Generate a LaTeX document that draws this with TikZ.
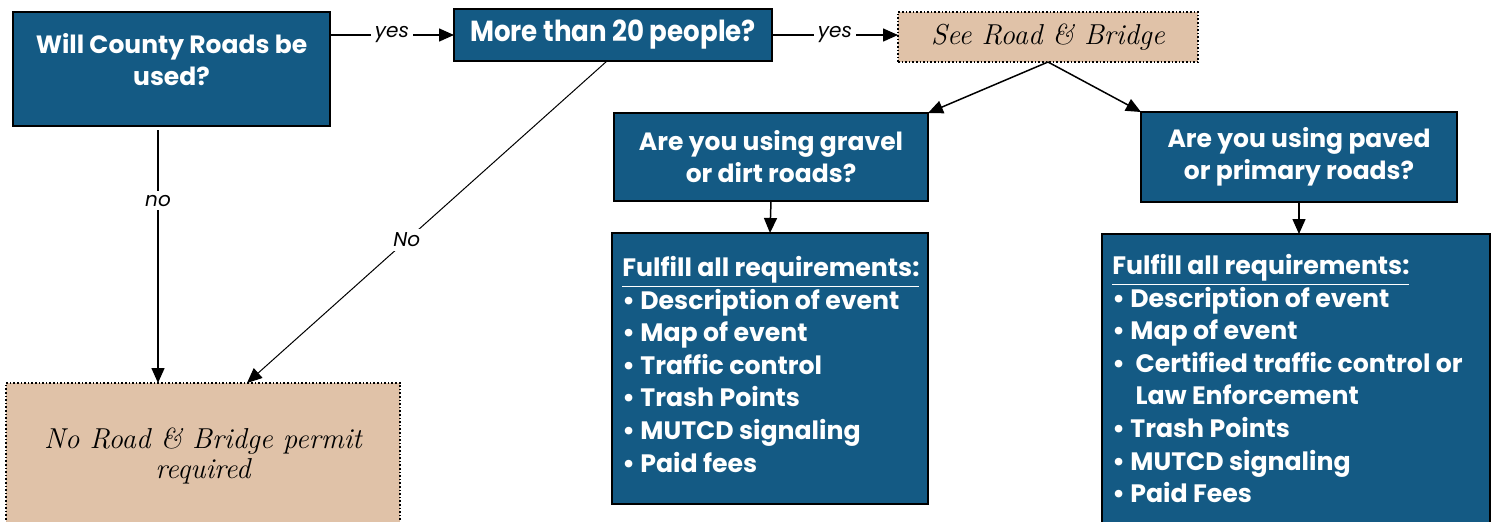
\documentclass[tikz,border=0pt]{standalone}
\usepackage{fontspec}
\newfontfamily\gothic{Poppins}
\newfontfamily\gothiccond[FakeStretch=0.9]{Poppins}
\usetikzlibrary{arrows.meta}

\begin{document}
\begin{tikzpicture}[x=0.5pt,y=0.5pt,yscale=-1,
  qbox/.style={draw=black,line width=1pt,fill={rgb, 255:red, 20; green, 90; blue, 132},inner sep=0pt,outer sep=0pt},
  tanbox/.style={draw=black,densely dotted,line width=0.8pt,fill={rgb, 255:red, 224; green, 194; blue, 168},inner sep=0pt,outer sep=0pt},
  qtext/.style={text=white,align=center,font=\gothic\bfseries\fontsize{12.5}{16}\selectfont},
  reqtext/.style={text=white,align=left,anchor=north west,inner sep=0pt,font=\gothic\bfseries\fontsize{12.6}{16.3}\selectfont},
  serifit/.style={align=center,font=\itshape\fontsize{14.4}{15}\selectfont},
  arr/.style={line width=0.75pt,-{Triangle[length=7.5pt,width=6.5pt]}},
  ans/.style={fill=white,inner sep=2pt,font=\gothic\itshape\fontsize{10}{12}\selectfont}
]
\useasboundingbox (0,0) rectangle (1496,521);

%Shape: Rectangle [county roads question]
\node[qbox,minimum width=158.5pt,minimum height=57pt] (county) at (171.5,69) {};
% Text Node
\node[qtext,anchor=north] (countytxt) at ([yshift=7pt]county.north) {Will County Roads be\\used?};
%Shape: Rectangle [more than 20]
\node[qbox,minimum width=159pt,minimum height=26pt,text=white,font=\gothiccond\bfseries\fontsize{14.5}{16}\selectfont] (people) at (613,35) {More than 20 people?};
%Shape: Rectangle [see road and bridge]
\node[tanbox,serifit,minimum width=150pt,minimum height=25pt] (seerb) at (1048,37) {See Road \& Bridge};
%Shape: Rectangle [gravel question]
\node[qbox,qtext,minimum width=157pt,minimum height=44pt] (gravel) at (771,157) {Are you using gravel\\or dirt roads?};
%Shape: Rectangle [paved question]
\node[qbox,qtext,minimum width=158pt,minimum height=45pt] (paved) at (1299,157) {Are you using paved\\or primary roads?};
%Shape: Rectangle [gravel requirements]
\node[qbox,minimum width=158pt,minimum height=135.5pt] (reqgravel) at (770,368.5) {};
% Text Node
\node[reqtext] (reqgraveltxt) at ([xshift=5pt,yshift=11.5pt]reqgravel.north west) {\underline{Fulfill all requirements:}\\
• Description of event\\
• Map of event\\
• Traffic control\\
• Trash Points\\
• MUTCD signaling\\
• Paid fees};
%Shape: Rectangle [paved requirements]
\node[qbox,minimum width=194pt,minimum height=153pt] (reqpaved) at (1296,387) {};
% Text Node
\node[reqtext] (reqpavedtxt) at ([xshift=5pt,yshift=10pt]reqpaved.north west) {\underline{Fulfill all requirements:}\\
• Description of event\\
• Map of event\\
•\ \ Certified traffic control or\\
\phantom{•\ \ }Law Enforcement\\
• Trash Points\\
• MUTCD signaling\\
• Paid Fees};
%Shape: Rectangle [no permit]
\node[tanbox,minimum width=197pt,minimum height=78.5pt] (nopermit) at (203,461.5) {};
% Text Node
\node[serifit,anchor=north] (nopermittxt) at (203,421) {No Road \& Bridge permit\\required};

%Straight Lines [connectors]
\draw[arr] (people.west -| county.east) -- node[ans] {yes} (people.west);
\draw[arr] (people.east) -- node[ans] {yes} (seerb.west |- people.east);
\draw[arr,shorten <=2pt] ([xshift=-6.75pt]county.south) -- node[ans,pos=0.29] {no} ([xshift=-6.75pt]county.south |- nopermit.north);
\draw[arr,line width=0.5pt] ([xshift=-3pt]people.south) -- node[ans,pos=0.556] {No} ([xshift=22pt]nopermit.north);
\draw[arr] (seerb.south) -- (gravel.north east);
\draw[arr] (seerb.south) -- (paved.north west);
\draw[arr] (gravel.south) -- (reqgravel.north);
\draw[arr] (paved.south) -- (paved.south |- reqpaved.north);

\end{tikzpicture}
\end{document}
